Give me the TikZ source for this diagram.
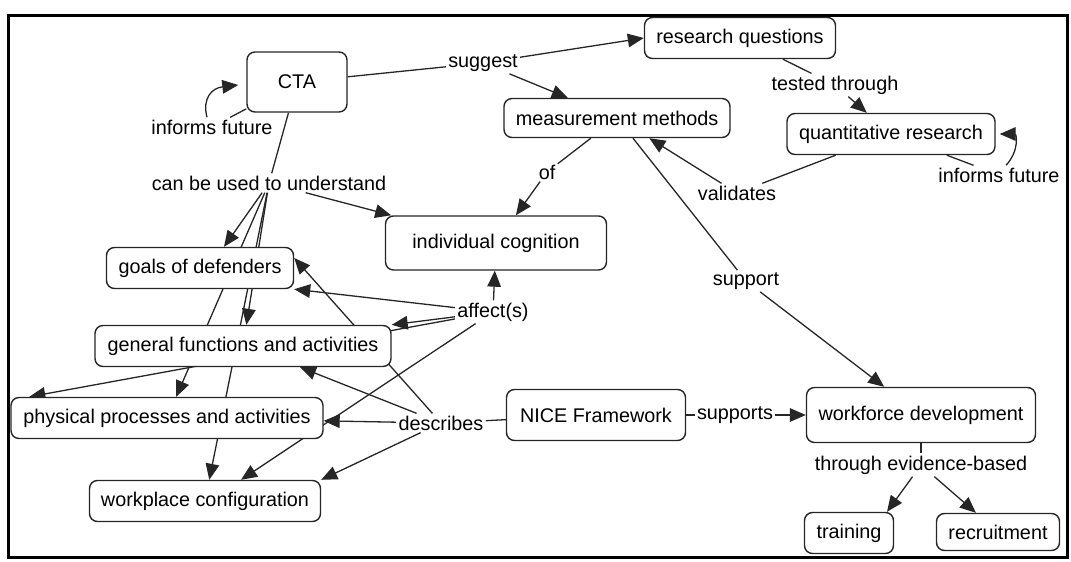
\documentclass[tikz,border=0pt]{standalone}
\usepackage{fontspec}
\setmainfont{Liberation Sans}
\usetikzlibrary{arrows.meta, backgrounds}

\begin{document}
\begin{tikzpicture}[x=0.5pt, y=-0.5pt,
    font=\fontsize{9.9}{11.5}\selectfont,
    box/.style={draw=black!85, line width=0.7pt, rounded corners=4pt, fill=white, inner sep=0pt, align=center},
    phrase/.style={fill=white, inner sep=1pt},
    line/.style={draw=black!85, line width=0.65pt},
    arrow/.style={line, -{Triangle[length=8pt,width=6.8pt]}}
]
    \useasboundingbox (0,0) rectangle (1071,562);
    \draw[line width=1.5pt] (8,15) rectangle (1067,557);

    % concepts
    \node[box, minimum width=50pt, minimum height=30pt] (cta) at (297,82) {CTA};
    \node[box, minimum width=95.5pt, minimum height=20.5pt] (rq) at (740,38) {research questions};
    \node[box, minimum width=113pt, minimum height=19.5pt] (mm) at (617,118) {measurement methods};
    \node[box, minimum width=104pt, minimum height=20.5pt] (qr) at (891,134) {quantitative research};
    \node[box, minimum width=110.5pt, minimum height=27pt] (ic) at (496,243) {individual cognition};
    \node[box, minimum width=93.5pt, minimum height=20.5pt] (goals) at (200,268) {goals of defenders};
    \node[box, minimum width=148pt, minimum height=20.5pt] (gf) at (243,346) {general functions and activities};
    \node[box, minimum width=156pt, minimum height=20.5pt] (pp) at (167,418) {physical processes and activities};
    \node[box, minimum width=115.5pt, minimum height=20.5pt] (wc) at (205,501) {workplace configuration};
    \node[box, minimum width=89.5pt, minimum height=25.5pt] (nice) at (596,415) {NICE Framework};
    \node[box, minimum width=114.5pt, minimum height=27.5pt] (wd) at (921,415) {workforce development};
    \node[box, minimum width=44.5pt, minimum height=20.5pt] (training) at (849,533) {training};
    \node[box, minimum width=61.5pt, minimum height=18.5pt] (recruitment) at (998,532) {recruitment};

    % linking phrases
    \node[phrase] (suggest) at (483,63) {suggest};
    \node[phrase] (inf1) at (212,127) {informs future};
    \node[phrase] (cutu) at (269,183) {can be used to understand};
    \node[phrase] (tested) at (835,85) {tested through};
    \node[phrase] (inf2) at (999,175) {informs future};
    \node[phrase] (validates) at (737,193) {validates};
    \node[phrase] (of) at (547,172) {of};
    \node[phrase] (support) at (746,281) {support};
    \node[phrase] (affect) at (493,312) {affect(s)};
    \node[phrase] (describes) at (441,423) {describes};
    \node[phrase] (supports) at (735,415) {supports};
    \node[phrase] (teb) at (921,465) {through evidence-based};

    \begin{scope}[on background layer]
        % CTA
        \draw[line] (cta) -- (suggest);
        \draw[arrow] (suggest) -- (rq.west);
        \draw[arrow] (suggest) -- (mm);
        \draw[line] (cta) -- (inf1);
        \draw[arrow] ([xshift=-2.5pt]inf1.north) .. controls (202,98) and (212,88) .. ([xshift=-4pt,yshift=-1.5pt]cta.west);
        \draw[line] (cta) -- (cutu);
        \draw[arrow] (cutu) -- ([xshift=12pt]goals.north);
        \draw[arrow] (cutu) -- (gf);
        \draw[arrow] (cutu) -- (pp);
        \draw[arrow] (cutu) -- (wc);
        \draw[arrow] (cutu) -- (ic);

        % research
        \draw[line] (rq) -- (tested);
        \draw[arrow] (tested) -- (qr);
        \draw[line] (qr) -- (validates);
        \draw[arrow] (validates) -- (mm);
        \draw[line] (qr) -- (inf2);
        \draw[arrow] ([xshift=3.5pt]inf2.north) .. controls (1020,150) and (1016,134) .. ([xshift=2pt]qr.east);
        \draw[line] (mm) -- (of);
        \draw[arrow] (of) -- (ic);
        \draw[line] (mm) -- (support);
        \draw[arrow] (support) -- (wd);

        % affect(s)
        \draw[arrow] (affect) -- (ic);
        \draw[arrow] (affect) -- (goals.south east);
        \draw[arrow] (affect) -- (gf.north east);
        \draw[arrow] (affect) -- ([xshift=9.5pt]pp.north west);
        \draw[arrow] (affect) -- ([xshift=18pt]wc.north);

        % NICE
        \draw[line] (nice) -- (describes);
        \draw[arrow] (describes) -- ([yshift=5pt]goals.east);
        \draw[arrow] (describes) -- ([xshift=28.5pt]gf.south);
        \draw[arrow] (describes) -- (pp);
        \draw[arrow] (describes) -- (wc.north east);
        \draw[line] (nice) -- (supports);
        \draw[arrow] (supports) -- (wd);
        \draw[line] (wd) -- (teb);
        \draw[arrow] (teb) -- ([xshift=19pt]training.north);
        \draw[arrow] (teb) -- (recruitment);
    \end{scope}
\end{tikzpicture}
\end{document}
